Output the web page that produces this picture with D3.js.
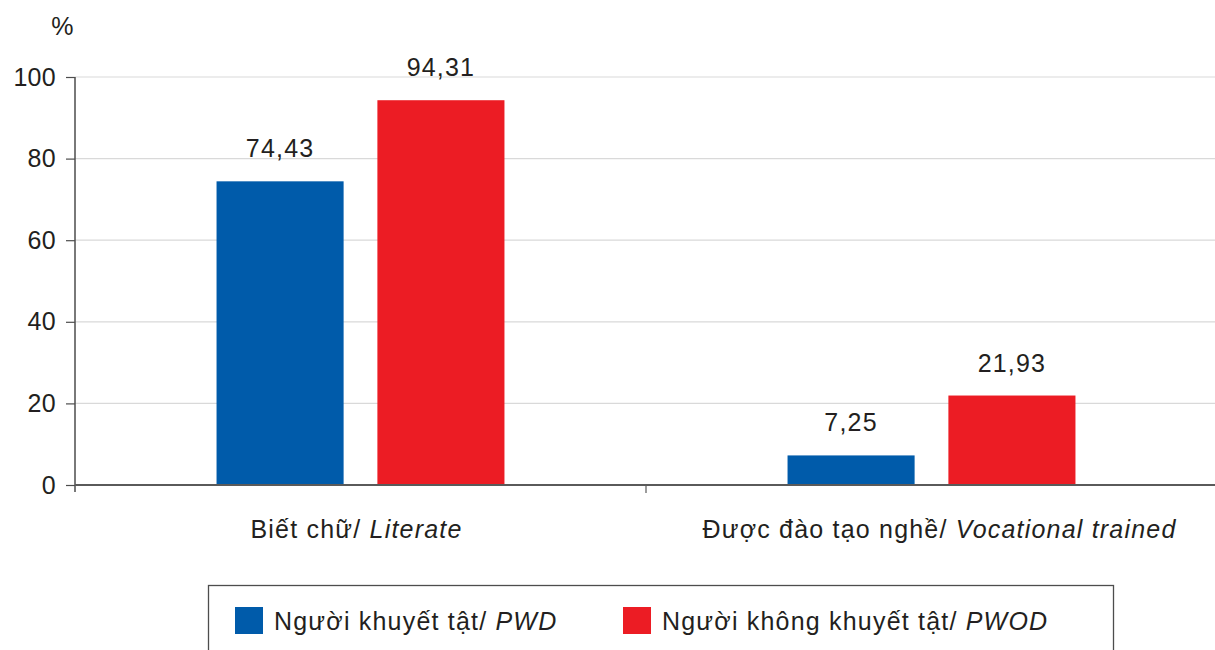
<!DOCTYPE html>
<html>
<head>
<meta charset="utf-8">
<script src="https://cdn.jsdelivr.net/npm/d3@7"></script>
<style>
  body { margin: 0; background: #fff; }
  text { font-family: "Liberation Sans", Arial, sans-serif; fill: #231f20; font-size: 25px; letter-spacing: 1.2px; }
</style>
</head>
<body>
<svg id="chart" width="1215" height="650"></svg>
<script>
var categories = ["Biết chữ/ |Literate", "Được đào tạo nghề/ |Vocational trained"];
var seriesNames = ["Người khuyết tật/ |PWD", "Người không khuyết tật/ |PWOD"];
var pwdValues = [74.43, 7.25];
var pwodValues = [94.31, 21.93];
var yTicks = [0, 20, 40, 60, 80, 100];
var colors = ["#005baa", "#ec1c24"];

var svg = d3.select("#chart");
var mLeft = 75, mRight = 1217, mTop = 77, mBottom = 485;

var x = d3.scaleBand().domain(categories).range([mLeft, mRight]);
var xi = d3.scaleBand().domain([0, 1]).range([0, x.bandwidth()]).paddingInner(0.21).paddingOuter(0.88);
var y = d3.scaleLinear().domain([0, 100]).range([mBottom, mTop]);

function fmt(v) { return String(v).replace(".", ","); }

// grid
svg.append("g").selectAll("line").data(yTicks.filter(function(d) { return d > 0; }))
  .enter().append("line")
  .attr("x1", mLeft).attr("x2", mRight)
  .attr("y1", function(d) { return y(d); }).attr("y2", function(d) { return y(d); })
  .attr("stroke", "#d9d9d9").attr("stroke-width", 1.2);

// bars
var rows = categories.map(function(c, i) { return { cat: c, vals: [pwdValues[i], pwodValues[i]] }; });
var grp = svg.append("g").selectAll("g").data(rows).enter().append("g")
  .attr("transform", function(d) { return "translate(" + x(d.cat) + ",0)"; });

grp.selectAll("rect").data(function(d) { return d.vals; }).enter().append("rect")
  .attr("x", function(d, i) { return xi(i); })
  .attr("width", xi.bandwidth())
  .attr("y", function(d) { return y(d); })
  .attr("height", function(d) { return mBottom - y(d); })
  .attr("fill", function(d, i) { return colors[i]; });

grp.selectAll("text").data(function(d) { return d.vals; }).enter().append("text")
  .attr("x", function(d, i) { return xi(i) + xi.bandwidth() / 2; })
  .attr("y", function(d) { return y(d) - 24; })
  .attr("text-anchor", "middle")
  .text(fmt);

// y axis
var yAxis = svg.append("g").attr("transform", "translate(" + mLeft + ",0)")
  .call(d3.axisLeft(y).tickValues(yTicks).tickSize(9).tickPadding(10));
yAxis.select(".domain").attr("stroke", "#4d4d4d").attr("stroke-width", 1.5)
  .attr("d", "M0," + mTop + "V" + (mBottom + 7));
yAxis.selectAll(".tick line").attr("stroke", "#4d4d4d").attr("stroke-width", 1.2);
yAxis.selectAll(".tick text").attr("fill", "#231f20")
  .style("font-size", "25px").style("letter-spacing", "0.3px").attr("font-family", null);

// x axis
var xAxis = svg.append("g").attr("transform", "translate(0," + mBottom + ")");
xAxis.append("line").attr("x1", mLeft).attr("x2", mRight).attr("y1", 0).attr("y2", 0)
  .attr("stroke", "#5a5a5a").attr("stroke-width", 2.2);
xAxis.selectAll(".sep").data(categories.slice(1)).enter().append("line")
  .attr("x1", function(d) { return x(d); }).attr("x2", function(d) { return x(d); })
  .attr("y1", 0).attr("y2", 8).attr("stroke", "#5a5a5a").attr("stroke-width", 1.2);

var catText = xAxis.selectAll(".cat").data(categories).enter().append("text")
  .attr("x", function(d, i) { return x(d) + x.bandwidth() / 2 + (i ? 8 : -4); })
  .attr("y", 53)
  .attr("text-anchor", "middle");
catText.append("tspan").text(function(d) { return d.split("|")[0]; });
catText.append("tspan").style("font-style", "italic").text(function(d) { return d.split("|")[1]; });

// unit
svg.append("text").attr("x", 63).attr("y", 35).attr("text-anchor", "middle").text("%");

// legend
svg.append("rect").attr("x", 208.5).attr("y", 585.5).attr("width", 905).attr("height", 80)
  .attr("fill", "none").attr("stroke", "#4d4d4d").attr("stroke-width", 1.3);
var legX = [235, 623];
var leg = svg.append("g").selectAll("g").data(seriesNames).enter().append("g")
  .attr("transform", function(d, i) { return "translate(" + legX[i] + ",607)"; });
leg.append("rect").attr("width", 28).attr("height", 27).attr("fill", function(d, i) { return colors[i]; });
var lt = leg.append("text").attr("x", 39).attr("y", 23);
lt.append("tspan").text(function(d) { return d.split("|")[0]; });
lt.append("tspan").style("font-style", "italic").text(function(d) { return d.split("|")[1]; });
</script>
</body>
</html>
